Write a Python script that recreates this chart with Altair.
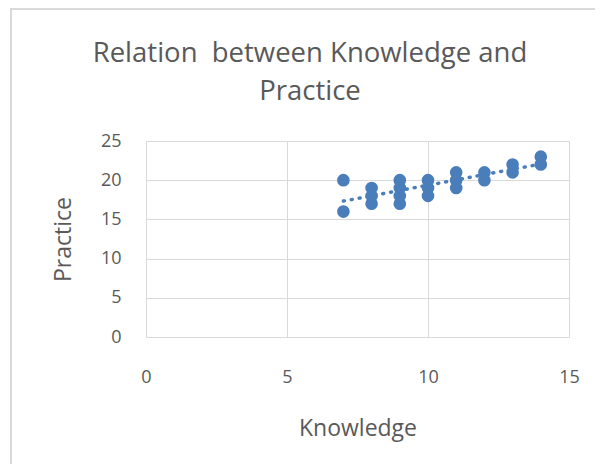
import altair as alt
import pandas as pd

knowledge = [7, 7, 8, 8, 8, 9, 9, 9, 9, 10, 10, 10, 11, 11, 11, 12, 12, 13, 13, 14, 14]
practice = [20, 16, 17, 18, 19, 17, 18, 19, 20, 18, 19, 20, 19, 20, 21, 20, 21, 21, 22, 22, 23]
x_ticks = [0, 5, 10, 15]
y_ticks = [0, 5, 10, 15, 20, 25]
title_text = "Relation\u00a0 between Knowledge and\nPractice"

df = pd.DataFrame({"Knowledge": knowledge, "Practice": practice})

BLUE = "#4a7ebb"
GREY = "#595959"
FONT = "Open Sans"

base = alt.Chart(df)

frame = alt.Chart(pd.DataFrame({"k": [0]})).mark_rect(
    fill=None, stroke="#d9d9d9", strokeWidth=2, clip=False
).encode(
    x=alt.value(-135), x2=alt.value(700), y=alt.value(-132), y2=alt.value(700)
)

title = alt.Chart(pd.DataFrame({"t": [title_text]})).mark_text(
    font=FONT, fontSize=27.5, color=GREY, align="center", baseline="alphabetic",
    lineBreak="\n", lineHeight=38, clip=False
).encode(x=alt.value(164), y=alt.value(-79), text="t:N")

xenc = alt.X("Knowledge:Q", scale=alt.Scale(domain=[0, 15], nice=False),
             axis=alt.Axis(values=x_ticks, title="Knowledge", labelPadding=31,
                           titleY=91, titleBaseline="middle",
                           tickSize=0, domainColor="#d9d9d9", labelFlush=False,
                           labelOverlap=False,
                           gridColor="#d9d9d9", labelColor=GREY, titleColor=GREY,
                           labelFontSize=18, titleFontSize=23, labelFont=FONT,
                           titleFont=FONT, titleFontWeight="normal"))
yenc = alt.Y("Practice:Q", scale=alt.Scale(domain=[0, 25], nice=False),
             axis=alt.Axis(values=y_ticks, title="Practice", labelPadding=25,
                           titleX=-83, titleY=98, titleBaseline="middle",
                           titleAlign="center", titleAngle=270,
                           tickSize=0, domain=False, labelFlush=False,
                           labelOverlap=False,
                           gridColor="#d9d9d9", labelColor=GREY, titleColor=GREY,
                           labelFontSize=18, titleFontSize=23, labelFont=FONT,
                           titleFont=FONT, titleFontWeight="normal"))

points = base.mark_circle(size=160, color=BLUE, opacity=1).encode(x=xenc, y=yenc)

trend = base.transform_regression(
    "Knowledge", "Practice", method="linear", extent=[7, 14]
).mark_line(color=BLUE, strokeDash=[1, 7], strokeWidth=3.5, strokeCap="round").encode(
    x=xenc, y=yenc
)

chart = alt.layer(frame, title, points, trend).properties(
    width=423, height=196,
    padding={"left": 138, "top": 133, "right": 26, "bottom": 127},
    autosize=alt.AutoSizeParams(type="none"),
).configure_view(stroke=None).configure_axis(gridWidth=1)

chart.save("out.html", embed_options={"renderer": "svg", "actions": False})
